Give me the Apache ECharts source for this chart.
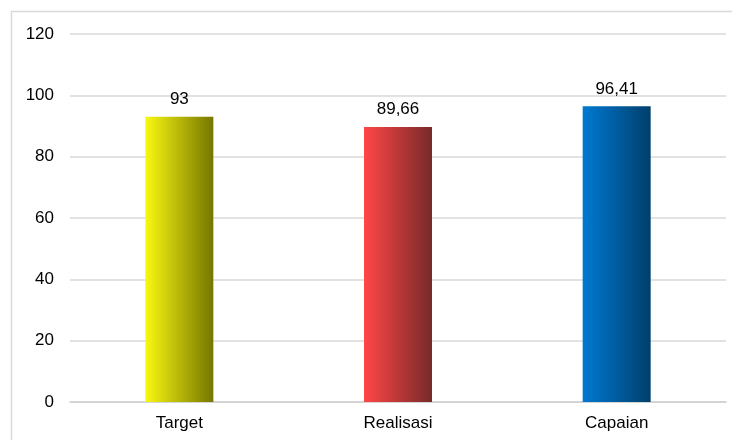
<!DOCTYPE html>
<html>
<head>
<meta charset="utf-8">
<script src="https://cdn.jsdelivr.net/npm/echarts@6/dist/echarts.min.js"></script>
<style>
html,body{margin:0;padding:0;background:#fff;}
#chart{width:732px;height:440px;}
</style>
</head>
<body>
<div id="chart"></div>
<script>
const categories = ['Target', 'Realisasi', 'Capaian'];
const values = [93, 89.66, 96.41];
const yTicks = [0, 20, 40, 60, 80, 100, 120];
const gradients = [
  ['#f8f812', '#767600'],
  ['#ff4646', '#772a2a'],
  ['#0079d2', '#003f6c']
];

const chart = echarts.init(document.getElementById('chart'), null, {renderer: 'canvas'});
const font = 'Arial, "Liberation Sans", sans-serif';
chart.setOption({
  animation: false,
  backgroundColor: '#fff',
  graphic: [{
    type: 'rect',
    shape: {x: 11.5, y: 11.5, width: 760, height: 460},
    style: {fill: 'none', stroke: '#d9d9d9', lineWidth: 1.5},
    silent: true
  }],
  grid: {left: 70, right: 6, top: 34, bottom: 38, containLabel: false},
  xAxis: {
    type: 'category',
    data: categories,
    axisLine: {show: true, lineStyle: {color: '#d0d0d0', width: 1.5}},
    axisTick: {show: false},
    axisLabel: {color: '#000', fontSize: 17, fontFamily: font, margin: 13}
  },
  yAxis: {
    type: 'value',
    min: yTicks[0],
    max: yTicks[yTicks.length - 1],
    interval: 20,
    axisLine: {show: false},
    axisTick: {show: false},
    splitLine: {lineStyle: {color: '#d9d9d9', width: 1.5}},
    axisLabel: {color: '#000', fontSize: 17, fontFamily: font, margin: 16}
  },
  series: [{
    type: 'bar',
    barWidth: 68,
    data: values.map((v, i) => ({
      value: v,
      itemStyle: {
        color: new echarts.graphic.LinearGradient(0, 0, 1, 0, [
          {offset: 0, color: gradients[i][0]},
          {offset: 1, color: gradients[i][1]}
        ])
      }
    })),
    label: {
      show: true,
      position: 'top',
      distance: 9,
      color: '#000',
      fontSize: 17,
      fontFamily: font,
      formatter: p => String(p.value).replace('.', ',')
    }
  }]
});
</script>
</body>
</html>
